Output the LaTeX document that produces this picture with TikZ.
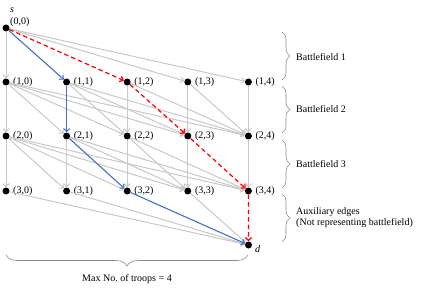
\documentclass[tikz,border=0pt]{standalone}
\usepackage{fontspec}
\setmainfont{Liberation Serif}
\usetikzlibrary{arrows.meta,decorations.pathreplacing,calc}
\definecolor{blueC}{HTML}{4472C4}
\definecolor{greyE}{HTML}{C8C8C8}
\definecolor{braceC}{HTML}{8C8C8C}
\begin{document}
\begin{tikzpicture}[x=1pt,y=-1pt,
  dot/.style={circle,fill=black,inner sep=0pt,minimum size=7pt},
  lbl/.style={anchor=west,inner sep=0pt,font=\fontsize{10}{11}\selectfont},
  gedge/.style={draw=greyE,line width=1pt,-{Straight Barb[length=3pt,width=6pt]}},
  bedge/.style={draw=blueC,line width=1.1pt,-{Straight Barb[length=3pt,width=6pt]}},
  redge/.style={draw=red,line width=1.2pt,dash pattern=on 4.5pt off 3pt,-{Straight Barb[length=3pt,width=6pt]}},
  brc/.style={draw=braceC,line width=0.6pt,decorate,decoration={brace,amplitude=#1}}
]
\useasboundingbox (0,0) rectangle (423,291);

% nodes
\node[dot] (n00) at (6,28) {};
\foreach \i/\y in {1/82,2/136,3/191}{
  \foreach \j in {0,...,4}{
    \node[dot] (n\i\j) at ({6+60.6*\j},\y) {};
    \node[lbl] (l\i\j) at ({13+60.6*\j},\y) {(\i,\j)};
  }
}
\node[dot] (d) at (248.5,245) {};
\node[lbl] (l00) at (10,22.5) {(0,0)};
\node[lbl,font=\fontsize{10}{11}\selectfont\itshape] (s) at (10,10) {s};
\node[lbl,font=\fontsize{10}{11}\selectfont\itshape] (dl) at (255,249) {d};

% grey edges
\foreach \k in {0,3,4} \draw[gedge] (n00) -- (n1\k);
\foreach \i/\ii in {1/2,2/3}{
  \foreach \j in {0,...,4}{
    \foreach \k in {\j,...,4}{
      \edef\key{\i\j\k}
      \ifnum\key=111 \else\ifnum\key=212 \else\ifnum\key=123 \else\ifnum\key=234 \else
        \draw[gedge] (n\i\j) -- (n\ii\k);
      \fi\fi\fi\fi
    }
  }
}
\foreach \j in {0,1,3} \draw[gedge] (n3\j) -- (d);

% blue path
\draw[bedge] (n00) -- (n11);
\draw[bedge] (n11) -- (n21);
\draw[bedge] (n21) -- (n32);
\draw[bedge] (n32) -- (d);

% red path
\draw[redge] (n00) -- (n12);
\draw[redge] (n12) -- (n23);
\draw[redge] (n23) -- (n34);
\draw[redge] (n34) -- (d);

% right braces
\coordinate (b1t) at (282,32);  \coordinate (b1b) at (282,80);
\coordinate (b2t) at (282,86);  \coordinate (b2b) at (282,133);
\coordinate (b3t) at (282,140); \coordinate (b3b) at (282,188);
\coordinate (b4t) at (282,194); \coordinate (b4b) at (282,242);
\draw[brc=8pt] (b1t) -- (b1b);
\draw[brc=8pt] (b2t) -- (b2b);
\draw[brc=8pt] (b3t) -- (b3b);
\draw[brc=8pt] (b4t) -- (b4b);
\node[lbl] (t1) at (296,57) {Battlefield 1};
\node[lbl] (t2) at (296,109) {Battlefield 2};
\node[lbl] (t3) at (296,164) {Battlefield 3};
\node[lbl,align=left] (t4) at (296,218) {Auxiliary edges\\(Not representing battlefield)};

% bottom brace
\coordinate (bbr) at (248,255); \coordinate (bbl) at (6,255);
\draw[brc=11pt] (bbr) -- (bbl);
\node[inner sep=0pt,font=\fontsize{10}{11}\selectfont] (tb) at (127,279) {Max No.\ of troops = 4};
\end{tikzpicture}
\end{document}
